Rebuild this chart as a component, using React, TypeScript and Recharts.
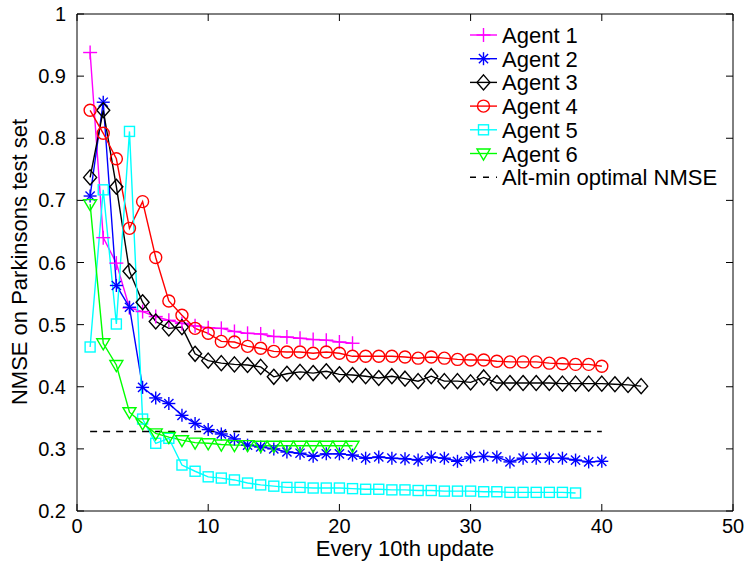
import React from 'react';
import { LineChart, Line, XAxis, YAxis } from 'recharts';

// values, index i -> update i+1
const agent1 = [0.938, 0.640, 0.599, 0.527, 0.521, 0.513, 0.507, 0.502, 0.498, 0.495, 0.494, 0.489, 0.486, 0.485, 0.481, 0.480, 0.478, 0.476, 0.475, 0.472, 0.470];
const agent2 = [0.707, 0.858, 0.563, 0.528, 0.399, 0.382, 0.373, 0.354, 0.341, 0.331, 0.324, 0.316, 0.306, 0.303, 0.300, 0.295, 0.293, 0.288, 0.292, 0.292, 0.290, 0.285, 0.287, 0.285, 0.284, 0.282, 0.287, 0.285, 0.280, 0.287, 0.288, 0.287, 0.279, 0.285, 0.285, 0.285, 0.285, 0.282, 0.279, 0.280];
const agent3 = [0.737, 0.845, 0.722, 0.586, 0.536, 0.505, 0.494, 0.496, 0.453, 0.442, 0.438, 0.436, 0.435, 0.432, 0.416, 0.421, 0.424, 0.422, 0.425, 0.420, 0.419, 0.417, 0.414, 0.417, 0.413, 0.409, 0.417, 0.409, 0.409, 0.407, 0.415, 0.406, 0.406, 0.406, 0.406, 0.406, 0.405, 0.405, 0.405, 0.405, 0.404, 0.403, 0.401];
const agent4 = [0.845, 0.808, 0.767, 0.655, 0.698, 0.608, 0.538, 0.515, 0.494, 0.486, 0.473, 0.472, 0.465, 0.462, 0.457, 0.456, 0.456, 0.454, 0.456, 0.454, 0.449, 0.449, 0.449, 0.449, 0.448, 0.446, 0.448, 0.446, 0.444, 0.443, 0.443, 0.441, 0.440, 0.440, 0.440, 0.438, 0.437, 0.436, 0.436, 0.433];
const agent5 = [0.464, 0.717, 0.501, 0.811, 0.348, 0.309, 0.317, 0.274, 0.264, 0.255, 0.253, 0.250, 0.245, 0.242, 0.240, 0.238, 0.238, 0.237, 0.237, 0.237, 0.236, 0.235, 0.235, 0.234, 0.234, 0.233, 0.233, 0.232, 0.232, 0.232, 0.231, 0.231, 0.230, 0.230, 0.230, 0.230, 0.230, 0.229];
const agent6 = [0.694, 0.470, 0.435, 0.359, 0.341, 0.325, 0.319, 0.314, 0.310, 0.309, 0.307, 0.306, 0.306, 0.305, 0.305, 0.305, 0.305, 0.305, 0.305, 0.305, 0.305];

const altMinValue = 0.328;
const altMinRange = [1, 40];

const xTicks = [0, 10, 20, 30, 40, 50];
const yTicks = [0.2, 0.3, 0.4, 0.5, 0.6, 0.7, 0.8, 0.9, 1];

const FONT = '"Liberation Sans", Arial, Helvetica, sans-serif';

type Kind = 'plus' | 'star' | 'diamond' | 'circle' | 'square' | 'triangle';

const series: { name: string; values: number[]; color: string; kind: Kind }[] = [
  { name: 'Agent 1', values: agent1, color: '#ff00ff', kind: 'plus' },
  { name: 'Agent 2', values: agent2, color: '#0000ff', kind: 'star' },
  { name: 'Agent 3', values: agent3, color: '#000000', kind: 'diamond' },
  { name: 'Agent 4', values: agent4, color: '#ff0000', kind: 'circle' },
  { name: 'Agent 5', values: agent5, color: '#00ffff', kind: 'square' },
  { name: 'Agent 6', values: agent6, color: '#00ff00', kind: 'triangle' },
];

const toPoints = (vals: number[]) => vals.map((y, i) => ({ x: i + 1, y }));

const Marker = ({ kind, cx, cy, color }: { kind: Kind; cx: number; cy: number; color: string }) => {
  const sw = 1.4;
  if (cx == null || cy == null) return null;
  switch (kind) {
    case 'plus':
      return (
        <g stroke={color} strokeWidth={sw}>
          <line x1={cx - 7} y1={cy} x2={cx + 7} y2={cy} />
          <line x1={cx} y1={cy - 7} x2={cx} y2={cy + 7} />
        </g>
      );
    case 'star': {
      const r = 6.5;
      const d = r * 0.707;
      return (
        <g stroke={color} strokeWidth={sw}>
          <line x1={cx - r} y1={cy} x2={cx + r} y2={cy} />
          <line x1={cx} y1={cy - r} x2={cx} y2={cy + r} />
          <line x1={cx - d} y1={cy - d} x2={cx + d} y2={cy + d} />
          <line x1={cx - d} y1={cy + d} x2={cx + d} y2={cy - d} />
        </g>
      );
    }
    case 'diamond':
      return (
        <polygon
          points={`${cx},${cy - 7.5} ${cx + 6.5},${cy} ${cx},${cy + 7.5} ${cx - 6.5},${cy}`}
          fill="none" stroke={color} strokeWidth={sw}
        />
      );
    case 'circle':
      return <circle cx={cx} cy={cy} r={6} fill="none" stroke={color} strokeWidth={sw} />;
    case 'square':
      return <rect x={cx - 5} y={cy - 5} width={10} height={10} fill="none" stroke={color} strokeWidth={sw} />;
    case 'triangle':
      return (
        <polygon
          points={`${cx - 6.5},${cy - 4.5} ${cx + 6.5},${cy - 4.5} ${cx},${cy + 6.5}`}
          fill="none" stroke={color} strokeWidth={sw}
        />
      );
  }
  return null;
};

const makeDot = (kind: Kind, color: string) => (props: any) => (
  <Marker key={`${kind}-${props.index}`} kind={kind} color={color} cx={props.cx} cy={props.cy} />
);

const tickStyle = { fill: '#000', fontSize: 20, fontFamily: FONT };

const App = () => {
  const legendTop = 35;
  const legendStep = 23.7;
  return (
    <div style={{ position: 'absolute', left: 0, top: 0, width: 747, height: 564, background: '#fff', fontFamily: FONT }}>
      <LineChart width={747} height={564} margin={{ top: 0, right: 0, bottom: 0, left: 0 }}>
        <XAxis
          xAxisId={0}
          type="number"
          dataKey="x"
          domain={[0, 50]}
          ticks={xTicks}
          height={53}
          tickSize={-7}
          tickMargin={15}
          stroke="#000"
          tick={tickStyle}
          allowDataOverflow
        />
        <XAxis
          xAxisId="top"
          orientation="top"
          type="number"
          dataKey="x"
          domain={[0, 50]}
          ticks={xTicks}
          height={14}
          tickSize={-7}
          stroke="#000"
          tickFormatter={() => ''}
          allowDataOverflow
        />
        <YAxis
          yAxisId={0}
          type="number"
          domain={[0.2, 1]}
          ticks={yTicks}
          width={77}
          tickSize={-7}
          tickMargin={18}
          stroke="#000"
          tick={tickStyle}
          allowDataOverflow
        />
        <YAxis
          yAxisId="right"
          orientation="right"
          type="number"
          domain={[0.2, 1]}
          ticks={yTicks}
          width={14}
          tickSize={-7}
          stroke="#000"
          tickFormatter={() => ''}
          allowDataOverflow
        />
        {series.map((s) => (
          <Line
            key={s.name}
            xAxisId={0}
            yAxisId={0}
            data={toPoints(s.values)}
            dataKey="y"
            type="linear"
            stroke={s.color}
            strokeWidth={1.4}
            dot={makeDot(s.kind, s.color)}
            activeDot={false}
            isAnimationActive={false}
          />
        ))}
        <Line
          xAxisId={0}
          yAxisId={0}
          data={altMinRange.map((x) => ({ x, y: altMinValue }))}
          dataKey="y"
          type="linear"
          stroke="#000"
          strokeWidth={1.4}
          strokeDasharray="7 6"
          dot={false}
          activeDot={false}
          isAnimationActive={false}
        />
      </LineChart>
      <svg width={747} height={564} style={{ position: 'absolute', left: 0, top: 0, pointerEvents: 'none' }}>
        <text x={405} y={556} textAnchor="middle" fontSize={22} fill="#000" fontFamily={FONT}>
          Every 10th update
        </text>
        <text transform="translate(27,262) rotate(-90)" textAnchor="middle" fontSize={22} fill="#000" fontFamily={FONT}>
          NMSE on Parkinsons test set
        </text>
        {series.map((s, i) => {
          const y = legendTop + i * legendStep;
          return (
            <g key={s.name}>
              <line x1={470} y1={y} x2={497} y2={y} stroke={s.color} strokeWidth={1.4} />
              <Marker kind={s.kind} cx={483.5} cy={y} color={s.color} />
              <text x={502} y={y + 8} fontSize={22} fill="#000" fontFamily={FONT}>{s.name}</text>
            </g>
          );
        })}
        <g>
          <line
            x1={470}
            y1={legendTop + 6 * legendStep}
            x2={497}
            y2={legendTop + 6 * legendStep}
            stroke="#000"
            strokeWidth={1.4}
            strokeDasharray="6 7"
          />
          <text x={502} y={legendTop + 6 * legendStep + 8} fontSize={22} fill="#000" fontFamily={FONT}>
            Alt-min optimal NMSE
          </text>
        </g>
      </svg>
    </div>
  );
};

export default App;
